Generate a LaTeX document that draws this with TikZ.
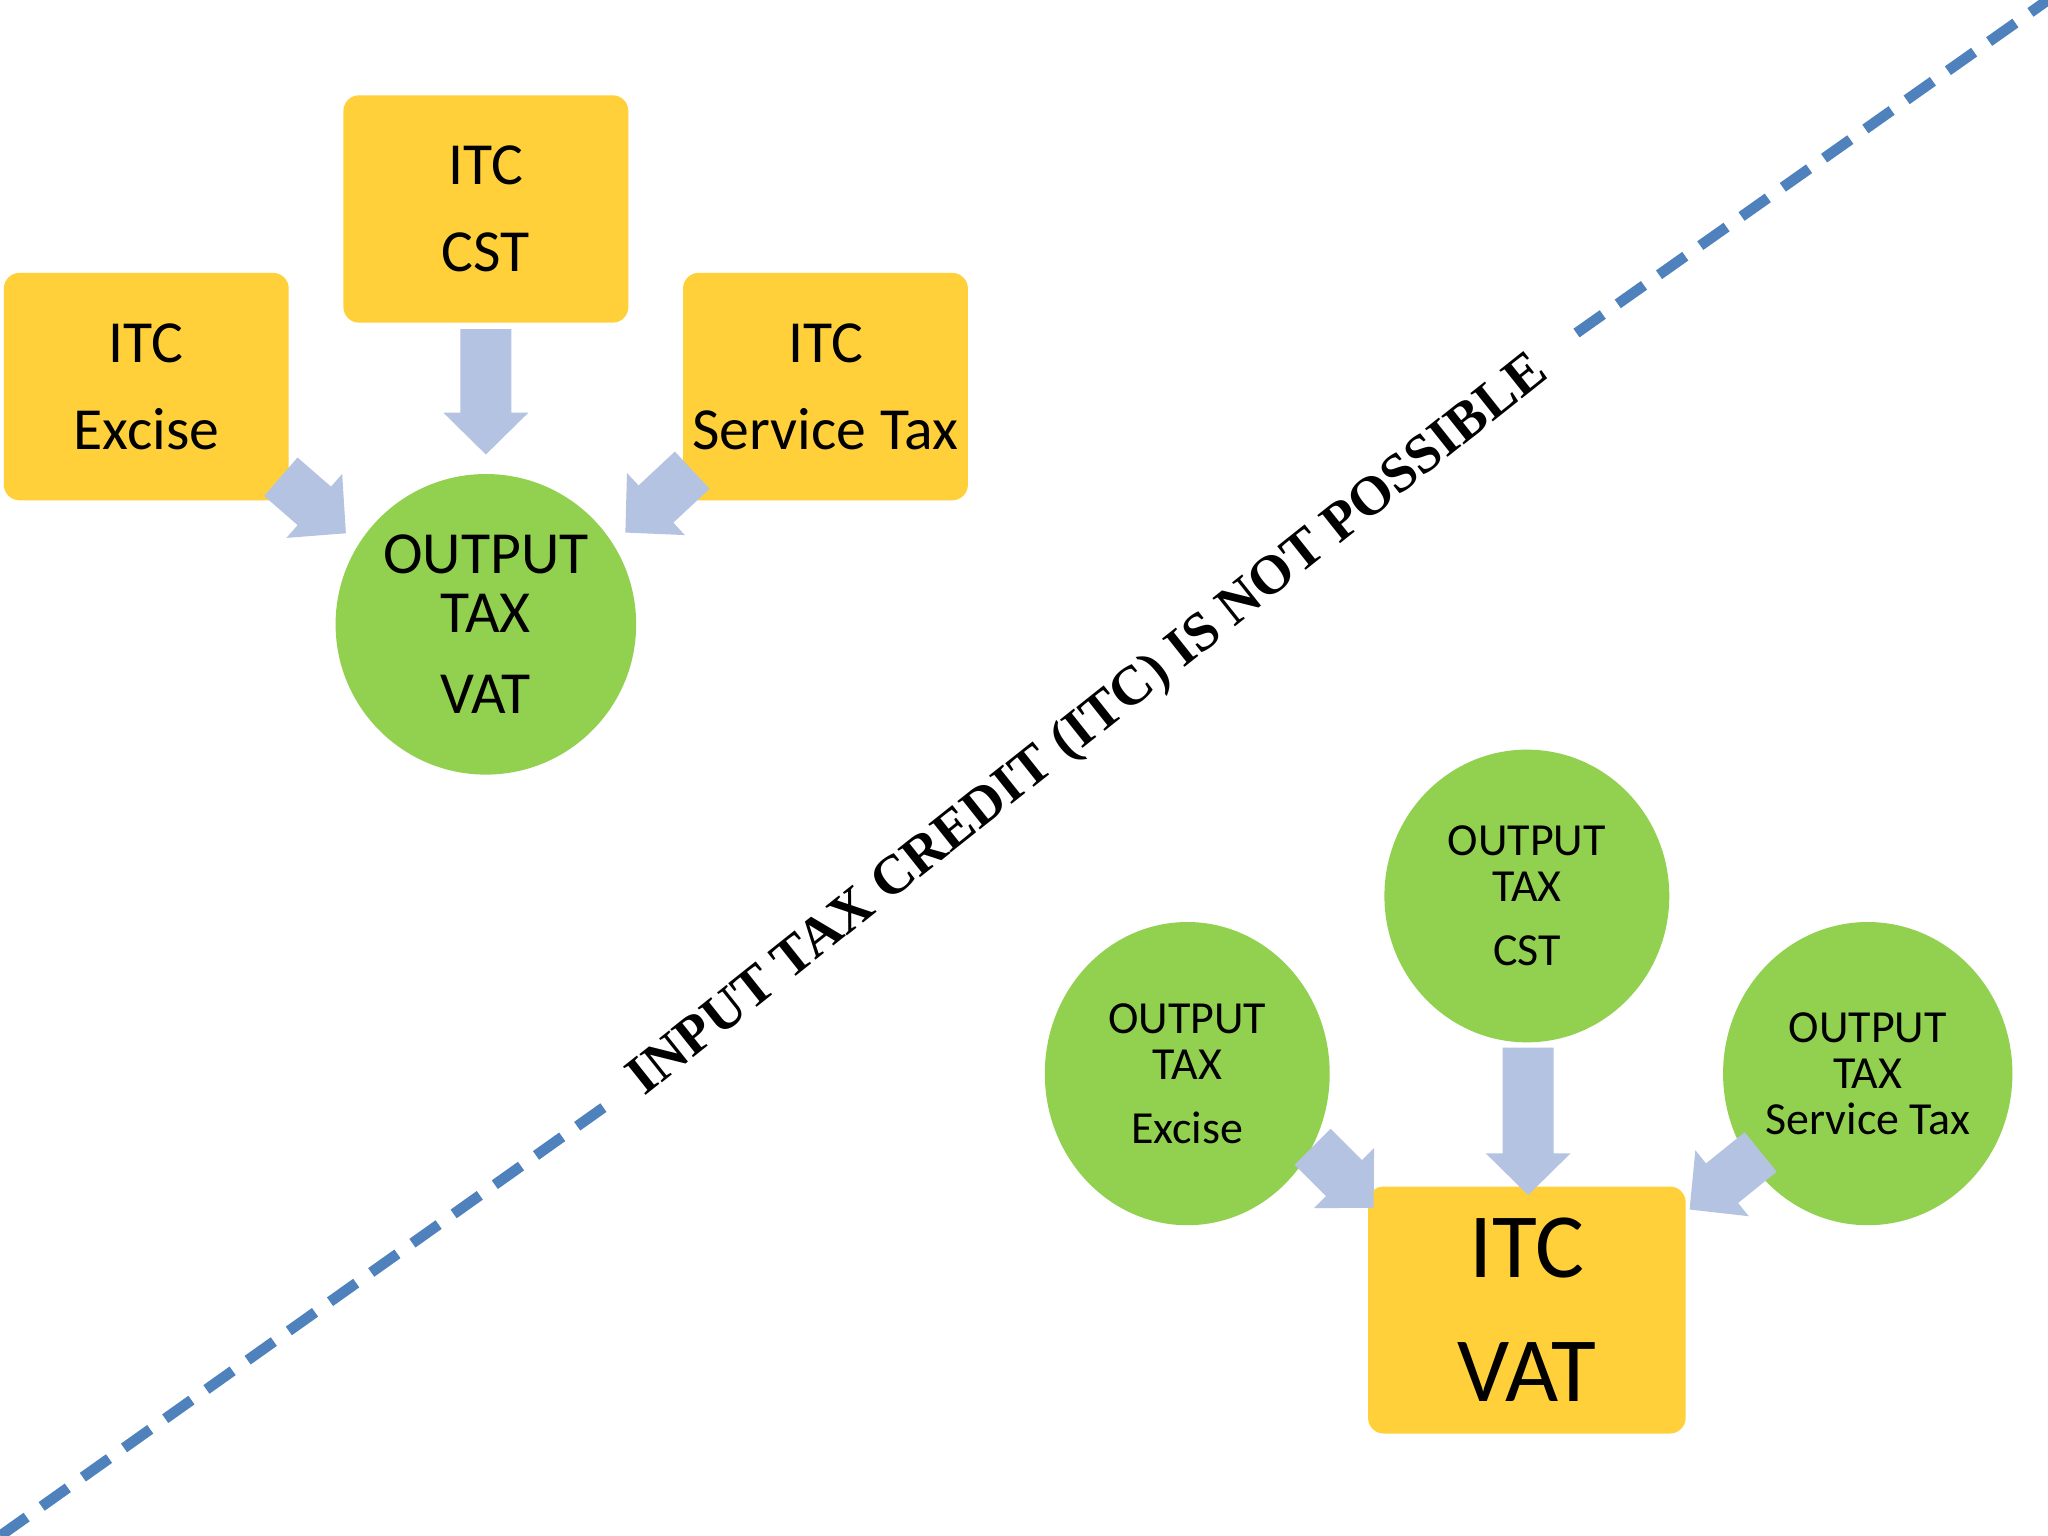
\documentclass[tikz,border=0pt]{standalone}
\usetikzlibrary{shapes.geometric}
\usepackage{fontspec}
\setmainfont{Carlito}
\newfontfamily\serifb{Liberation Serif}
\begin{document}
\begin{tikzpicture}[x=0.01cm,y=-0.01cm,
  ybox/.style={fill=ycol, rounded corners=3.4pt, inner sep=0, align=center},
  gcirc/.style={ellipse, fill=gcol, inner sep=0, align=center}]
\definecolor{ycol}{HTML}{FFD03A}
\definecolor{gcol}{HTML}{92D050}
\definecolor{acol}{HTML}{B4C3E1}
\definecolor{lcol}{HTML}{4F81BD}
\newcommand\fatarrow[4]{\begin{scope}[shift={(#1,#2)},rotate=#3]
 \fill[acol] (0,-19.5) -- (#4-32,-19.5) -- (#4-32,-32.5) -- (#4,0) -- (#4-32,32.5) -- (#4-32,19.5) -- (0,19.5) -- cycle;
\end{scope}}
\useasboundingbox (0,0) rectangle (1568,1176);
\fill[white] (0,0) rectangle (1568,1176);
% dashed line
\coordinate (l0) at (0,1176); \coordinate (l1) at (462,848);
\coordinate (l2) at (1207,255); \coordinate (l3) at (1568,0);
\draw[lcol, line width=2.3pt, dash pattern=on 7pt off 4pt] (l1) -- (l0);
\draw[lcol, line width=2.3pt, dash pattern=on 7pt off 4pt] (l2) -- (l3);
% top group
\tikzset{ytop/.style={ybox, minimum width=2.18cm, minimum height=1.74cm, font=\fontsize{13}{19}\selectfont}}
\node[ytop] (exc) at (112,296) {ITC\\Excise};
\node[ytop] (cst) at (372,160) {ITC\\CST};
\node[ytop] (svc) at (632,296) {ITC\\Service Tax};
\node[gcirc, minimum width=2.3cm, minimum height=2.3cm, font=\fontsize{13}{12.8}\selectfont] (vat) at (372,478) {OUTPUT\\TAX\\[5pt]VAT};
\fatarrow{372}{252}{-90}{96}
\fatarrow{215}{365}{-41}{66}
\fatarrow{530}{360}{-137}{70}
% bottom group
\tikzset{gbot/.style={gcirc, minimum width=2.18cm, minimum height=2.32cm, font=\fontsize{10}{10}\selectfont}}
\node[gbot] (oexc) at (909,822) {OUTPUT\\TAX\\[4pt]Excise};
\node[gbot, minimum height=2.24cm] (ocst) at (1169,686) {OUTPUT\\TAX\\[4pt]CST};
\node[gbot] (osvc) at (1430,822) {OUTPUT\\TAX\\Service Tax};
\node[ybox, minimum width=2.43cm, minimum height=1.89cm, font=\fontsize{20}{27}\selectfont] (ivat) at (1169,1003) {ITC\\VAT};
\fatarrow{1170}{802}{-90}{113}
\fatarrow{1005}{878}{-45}{66}
\fatarrow{1348}{882}{-141}{70}
\node[rotate=38.5, font=\serifb\bfseries\fontsize{12}{14}\selectfont] (title) at (834,556) {INPUT TAX CREDIT (ITC) IS NOT POSSIBLE};
\end{tikzpicture}
\end{document}
